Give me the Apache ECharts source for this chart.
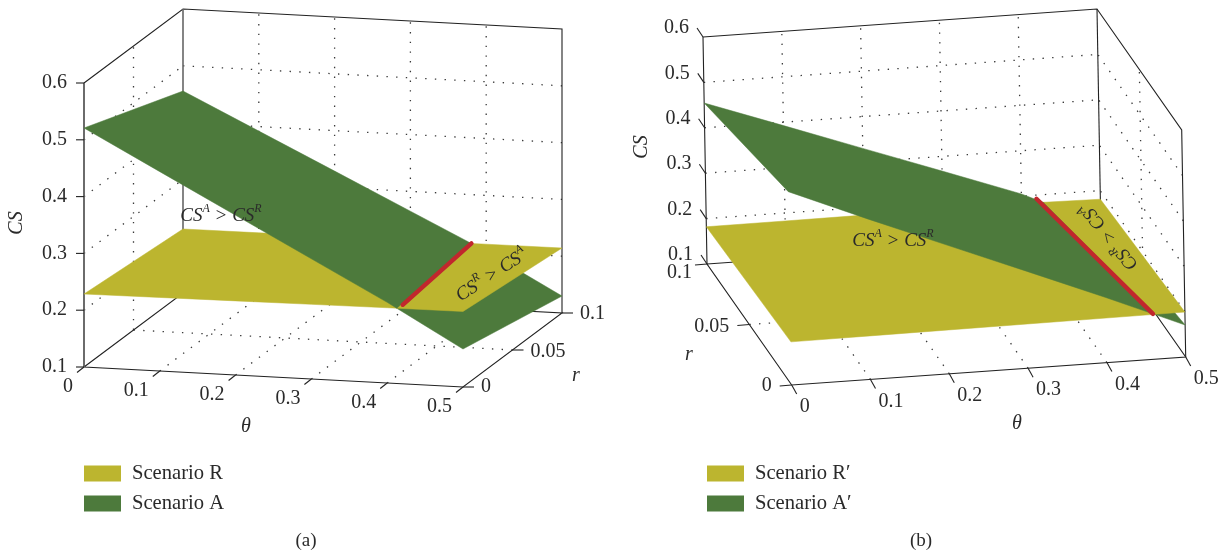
<!DOCTYPE html>
<html><head><meta charset="utf-8">
<style>html,body{margin:0;padding:0;background:#fff}#c{width:1226px;height:558px}</style>
<script src="https://cdn.jsdelivr.net/npm/echarts@6/dist/echarts.min.js"></script>
</head><body><div id="c"></div>
<script>
// ---- tick values
const thetaTicks = [0, 0.1, 0.2, 0.3, 0.4, 0.5];
const rTicks = [0, 0.05, 0.1];
const csTicks = [0.1, 0.2, 0.3, 0.4, 0.5, 0.6];
const thetaLabels = ['0', '0.1', '0.2', '0.3', '0.4', '0.5'];
const rLabels = ['0', '0.05', '0.1'];
const csLabels = ['0.1', '0.2', '0.3', '0.4', '0.5', '0.6'];
// ---- CS values along theta (thetaTicks) at r = 0 and r = 0.1
const scenarioA_r0 = [0.5208, 0.4510, 0.3813, 0.3116, 0.2420, 0.1669];
const scenarioA_r1 = [0.4556, 0.3921, 0.3287, 0.2651, 0.2016, 0.1299];
const scenarioR_r0 = [0.2285, 0.2295, 0.2305, 0.2315, 0.2325, 0.2330];
const scenarioR_r1 = [0.2127, 0.2130, 0.2133, 0.2137, 0.2141, 0.2144];
const scenarioA2_r0 = [0.5258, 0.4535, 0.3835, 0.3137, 0.2434, 0.1705];
const scenarioA2_r1 = [0.4546, 0.3925, 0.3300, 0.2678, 0.2050, 0.1250];
const scenarioR2_r0 = [0.1950, 0.1958, 0.1966, 0.1974, 0.1982, 0.1990];
const scenarioR2_r1 = [0.1820, 0.1824, 0.1830, 0.1832, 0.1839, 0.1810];
// ---- intersection lines [theta, r, CS]
const redA = [[0.410, 0.008, 0.228], [0.3805, 0.1, 0.2141]];
const redB = [[0.4595, 0, 0.200], [0.419, 0.1, 0.192]];

const SERIF = '"Liberation Serif","DejaVu Serif",serif';
const YEL = '#bcb52f', GRN = '#4d7a3c', RED = '#c1272d', INK = '#2a2a2a', DOT = '#3a3a3a';

const panelA = {
  origin: [84, 367], tv: [379, 20], rv: [99, -74], uv: [0, -284],
  A0: scenarioA_r0, A1: scenarioA_r1, R0: scenarioR_r0, R1: scenarioR_r1, red: redA,
  names: ['Scenario R', 'Scenario A'], wallTheta: 0,
  csTick: [-8, 0], csLabel: [-17, 0, 'right'],
  tTick: [-7, 5.5], tLabel: [-11, 20, 'right'],
  rTick: [11, 0], rLabel: [18, 0, 'left'], rAdj: [[0, 0], [0, 2], [0, 1]],
  titles: [{t: 'CS', x: 17, y: 223, rot: Math.PI / 2}, {t: 'θ', x: 246, y: 427}, {t: 'r', x: 576, y: 376}],
  notes: [{x: 221, y: 214, rot: 0, a: 'A', b: 'R', op: ' > '}, {x: 491, y: 274, rot: 0.58, a: 'R', b: 'A', op: ' > '}],
  tag: {t: '(a)', x: 306, y: 541},
  frame: [[[0, 0, .6], [0, 0, .1], [.5, 0, .1], [.5, .1, .1], [0, .1, .1], [0, 0, .1]], [[0, 0, .6], [0, .1, .6], [.5, .1, .6], [.5, .1, .1]]],
  grey: [[[0, 0, .6], [0, 0, .1]], [[0, .1, .6], [0, .1, .1]]]
};
const panelB = {
  origin: [791.7, 385], tv: [394, -28], rv: [-84.7, -121], uv: [-4, -227],
  A0: scenarioA2_r0, A1: scenarioA2_r1, R0: scenarioR2_r0, R1: scenarioR2_r1, red: redB,
  names: ['Scenario R\u2032', 'Scenario A\u2032'], wallTheta: 0.5,
  csTick: [-6, -9], csLabel: [-14, -9, 'right'],
  tTick: [5, 9], tLabel: [8, 22, 'left'],
  rTick: [-12, 1], rLabel: [-20, 1, 'right'], rAdj: [[0, 0], [0, 1], [5, 8]],
  titles: [{t: 'CS', x: 641.7, y: 147, rot: Math.PI / 2}, {t: 'θ', x: 1017, y: 424}, {t: 'r', x: 689, y: 355}],
  notes: [{x: 893, y: 239, rot: 0, a: 'A', b: 'R', op: ' > '}, {x: 1108, y: 237, rot: 2.25, a: 'R', b: 'A', op: ' > '}],
  tag: {t: '(b)', x: 921, y: 541},
  frame: [[[0, .1, .6], [0, .1, .1], [0, 0, .1], [.5, 0, .1], [.5, .1, .1], [0, .1, .1]], [[0, .1, .6], [.5, .1, .6], [.5, 0, .6], [.5, 0, .1]], [[.5, .1, .6], [.5, .1, .1]]],
  grey: []
};

function proj(p, th, r, cs) {
  const a = th / 0.5, b = r / 0.1, c = (cs - 0.1) / 0.5;
  return [p.origin[0] + a * p.tv[0] + b * p.rv[0] + c * p.uv[0],
          p.origin[1] + a * p.tv[1] + b * p.rv[1] + c * p.uv[1]];
}
// where the two surfaces cross along one r-edge
function crossing(A, R) {
  for (let i = 0; i < A.length - 1; i++) {
    const d0 = A[i] - R[i], d1 = A[i + 1] - R[i + 1];
    if (d0 >= 0 && d1 < 0) {
      const f = d0 / (d0 - d1);
      return {i, th: thetaTicks[i] + f * (thetaTicks[i + 1] - thetaTicks[i]), cs: A[i] + f * (A[i + 1] - A[i])};
    }
  }
  return {i: A.length - 2, th: 0.5, cs: A[A.length - 1]};
}
function polys(p) {
  const c0 = crossing(p.A0, p.R0), c1 = crossing(p.A1, p.R1);
  const hi = [], lo = [];
  for (let i = 0; i <= c0.i; i++) hi.push([thetaTicks[i], 0, p.A0[i]]);
  hi.push([c0.th, 0, c0.cs], [c1.th, .1, c1.cs]);
  for (let i = c1.i; i >= 0; i--) hi.push([thetaTicks[i], .1, p.A1[i]]);
  lo.push([c0.th, 0, c0.cs]);
  for (let i = c0.i + 1; i < p.A0.length; i++) lo.push([thetaTicks[i], 0, p.A0[i]]);
  for (let i = p.A1.length - 1; i > c1.i; i--) lo.push([thetaTicks[i], .1, p.A1[i]]);
  lo.push([c1.th, .1, c1.cs]);
  const yel = [];
  thetaTicks.forEach((t, i) => yel.push([t, 0, p.R0[i]]));
  for (let i = thetaTicks.length - 1; i >= 0; i--) yel.push([thetaTicks[i], .1, p.R1[i]]);
  return {hi, lo, yel};
}
const base = {type: 'custom', coordinateSystem: 'cartesian2d', xAxisIndex: 0, yAxisIndex: 0, data: [[0, 0]], silent: true, clip: false, animation: false};

function polySeries(name, pts, p, color) {
  return Object.assign({}, base, {
    name, itemStyle: {color},
    renderItem: (_, api) => ({type: 'polygon', shape: {points: pts.map(q => api.coord(proj(p, q[0], q[1], q[2])))},
      style: {fill: color, stroke: color, lineWidth: 0.5}})
  });
}
function frameSeries(p) {
  return Object.assign({}, base, {
    name: 'frame',
    renderItem: (_, api) => {
      const kids = [];
      const line = (pts, stroke, lw, dash) => kids.push({type: 'polyline', shape: {points: pts.map(q => api.coord(proj(p, q[0], q[1], q[2])))},
        style: {fill: null, stroke, lineWidth: lw, lineDash: dash || null}});
      const dots = [1.4, 8.3];
      const mT = thetaTicks.slice(1, -1), w = p.wallTheta;
      const cM = csTicks.slice(1, -1);
      mT.forEach(t => { line([[t, .1, .1], [t, .1, .6]], DOT, 1.3, dots); line([[t, 0, .1], [t, .1, .1]], DOT, 1.3, dots); });
      cM.forEach(c => { line([[0, .1, c], [.5, .1, c]], DOT, 1.3, dots); line([[w, 0, c], [w, .1, c]], DOT, 1.3, dots); });
      line([[w, .05, .1], [w, .05, .6]], DOT, 1.3, dots);
      line([[0, .05, .1], [.5, .05, .1]], DOT, 1.3, dots);
      p.frame.forEach(f => line(f, '#222', 1.1));
      p.grey.forEach(f => line(f, '#666', 1.6));
      // tick marks
      const tick = (a, d) => { const s = proj(p, a[0], a[1], a[2]); kids.push({type: 'polyline', shape: {points: [api.coord(s), api.coord([s[0] + d[0], s[1] + d[1]])]}, style: {fill: null, stroke: '#222', lineWidth: 1.1}}); };
      csTicks.forEach(c => tick([0, p === panelA ? 0 : .1, c], p.csTick));
      thetaTicks.forEach(t => tick([t, 0, .1], p.tTick));
      rTicks.forEach(r => tick([p === panelA ? .5 : 0, r, .1], p.rTick));
      return {type: 'group', children: kids};
    }
  });
}
function textSeries(p) {
  return Object.assign({}, base, {
    name: 'text', z: 5,
    renderItem: (_, api) => {
      const kids = [];
      const txt = (s, a, off, size) => {
        const q = proj(p, a[0], a[1], a[2]);
        kids.push({type: 'text', x: q[0] + off[0], y: q[1] + off[1],
          style: {text: s, fill: INK, align: off[2], verticalAlign: 'middle', font: size + 'px ' + SERIF}});
      };
      csTicks.forEach((c, i) => txt(csLabels[i], [0, p === panelA ? 0 : .1, c], p.csLabel, 20));
      thetaTicks.forEach((t, i) => txt(thetaLabels[i], [t, 0, .1], p.tLabel, 20));
      rTicks.forEach((r, i) => txt(rLabels[i], [p === panelA ? .5 : 0, r, .1],
        [p.rLabel[0] + p.rAdj[i][0], p.rLabel[1] + p.rAdj[i][1], p.rLabel[2]], 20));
      p.titles.forEach(t => kids.push({type: 'text', x: t.x, y: t.y, rotation: t.rot || 0,
        style: {text: t.t, fill: INK, align: 'center', verticalAlign: 'middle', font: 'italic 20px ' + SERIF}}));
      kids.push({type: 'text', x: p.tag.x, y: p.tag.y, style: {text: p.tag.t, fill: INK, align: 'center', verticalAlign: 'middle', font: '19px ' + SERIF}});
      p.notes.forEach(n => kids.push({type: 'text', x: n.x, y: n.y, rotation: n.rot, style: {
        text: '{m|CS}{s|' + n.a + '}{m|' + n.op + 'CS}{s|' + n.b + '}', align: 'center', verticalAlign: 'middle', fill: INK,
        rich: {m: {font: 'italic 19px ' + SERIF, fill: INK, lineHeight: 22, verticalAlign: 'bottom'},
               s: {font: 'italic 12px ' + SERIF, fill: INK, lineHeight: 22, verticalAlign: 'top'}}}}));
      return {type: 'group', children: kids};
    }
  });
}
function redSeries(p) {
  return Object.assign({}, base, {
    name: 'intersection', z: 3,
    renderItem: (_, api) => ({type: 'polyline', shape: {points: p.red.map(q => api.coord(proj(p, q[0], q[1], q[2])))},
      style: {fill: null, stroke: RED, lineWidth: 4.4, lineCap: 'round'}})
  });
}
const series = [];
[panelA, panelB].forEach(p => {
  const g = polys(p);
  series.push(frameSeries(p),
    polySeries(p.names[1], g.lo, p, GRN),
    polySeries(p.names[0], g.yel, p, YEL),
    polySeries(p.names[1], g.hi, p, GRN),
    redSeries(p), textSeries(p));
});
const legendCommon = {orient: 'vertical', icon: 'rect', itemWidth: 37, itemHeight: 16, itemGap: 9, padding: 0,
  selectedMode: false, textStyle: {fontFamily: SERIF, fontSize: 20.6, color: INK, padding: [0, 0, 0, 6]}};
const chart = echarts.init(document.getElementById('c'), null, {renderer: 'canvas'});
chart.setOption({
  animation: false, backgroundColor: '#fff',
  grid: {left: 0, top: 0, right: 0, bottom: 0},
  xAxis: {type: 'value', min: 0, max: 1226, show: false},
  yAxis: {type: 'value', min: 0, max: 558, inverse: true, show: false},
  tooltip: {show: false},
  legend: [
    Object.assign({}, legendCommon, {left: 84, top: 463, data: panelA.names}),
    Object.assign({}, legendCommon, {left: 707, top: 463, data: panelB.names})
  ],
  series
});
</script></body></html>
